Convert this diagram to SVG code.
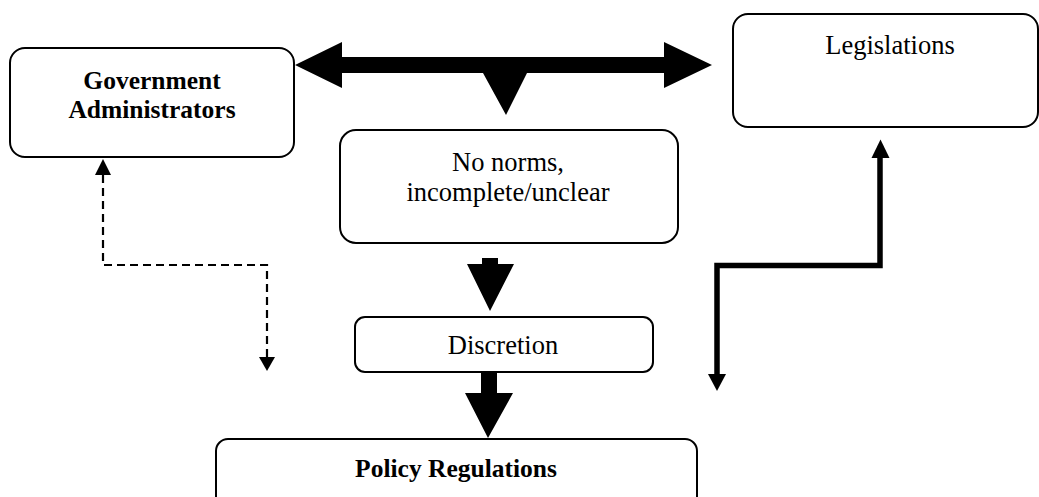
<svg xmlns="http://www.w3.org/2000/svg" width="1039" height="497" viewBox="0 0 1039 497">
<style>
.box{fill:#fff;stroke:#000;stroke-width:2}
.t{font-family:"Liberation Serif","Times New Roman",serif;font-size:26.5px;fill:#000;text-anchor:middle}
.b{font-weight:bold;font-size:25.5px}
.dash{fill:none;stroke:#000;stroke-width:2.2;stroke-dasharray:8,5}
.thick{fill:none;stroke:#000;stroke-width:5.5}
.fill{fill:#000;stroke:none}
</style>
<rect width="1039" height="497" fill="#fff"/>
<g id="gov">
<rect class="box" x="10" y="48" width="284" height="109" rx="15"/>
<text class="t b" x="152" y="89">Government</text>
<text class="t b" x="152" y="118">Administrators</text>
</g>
<g id="legis">
<rect class="box" x="733" y="14" width="305" height="113" rx="15"/>
<text class="t" x="890" y="54">Legislations</text>
</g>
<g id="norms">
<rect class="box" x="340" y="130" width="338" height="113" rx="16"/>
<text class="t" x="508" y="171">No norms,</text>
<text class="t" x="508" y="201">incomplete/unclear</text>
</g>
<g id="discretion">
<rect class="box" x="355" y="317" width="298" height="55" rx="10"/>
<text class="t" x="503" y="354">Discretion</text>
</g>
<g id="policy">
<rect class="box" x="216" y="439" width="481" height="70" rx="12"/>
<text class="t b" x="456" y="477">Policy Regulations</text>
</g>
<g id="connectors">
<polygon class="fill" points="295,65 342,42 342,57 664,57 664,42 712,65 664,88 664,73 527,73 506,115 483,73 342,73 342,88"/>
<polygon class="fill" points="482,258 498,258 498,264 514,264 490,311 467,264 482,264"/>
<polygon class="fill" points="481,373 497,373 497,393 513,393 488,438 465,393 481,393"/>
<path class="dash" d="M103,175 V265 H267 V357"/>
<polygon class="fill" points="103,159 111,175 95,175"/>
<polygon class="fill" points="267,371 259,357 275,357"/>
<path class="thick" d="M880,156 V265.5 H717 V375"/>
<polygon class="fill" points="880.5,139.5 889.5,158 871.5,158"/>
<polygon class="fill" points="717,391 708,374 726,374"/>
</g>
</svg>
